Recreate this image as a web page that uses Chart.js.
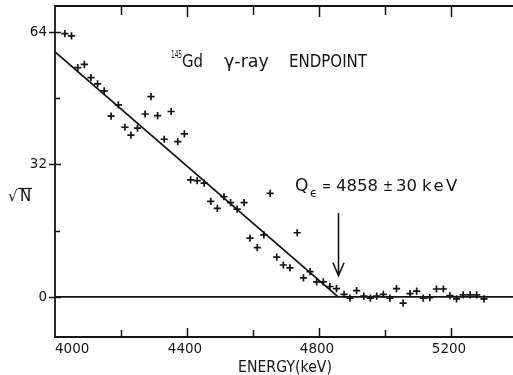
<!DOCTYPE html>
<html>
<head>
<meta charset="utf-8">
<script src="https://cdn.jsdelivr.net/npm/chart.js@4/dist/chart.umd.min.js"></script>
<style>
  html, body { margin: 0; padding: 0; background: #fff; overflow: hidden; }
  canvas { display: block; }
</style>
</head>
<body>
<canvas id="chart" width="513" height="375"></canvas>
<script>
// Measured spectrum: energy (keV) and square root of counts
const energies = [
  4030, 4050, 4069, 4089, 4109, 4129, 4149, 4170, 4192, 4212,
  4230, 4250, 4273, 4291, 4311, 4331, 4352, 4372, 4392, 4411,
  4431, 4452, 4472, 4492, 4512, 4532, 4552, 4573, 4591, 4613,
  4633, 4652, 4672, 4692, 4712, 4734, 4753, 4773, 4793, 4813,
  4833, 4853, 4876, 4894, 4914, 4936, 4956, 4975, 4995, 5015,
  5035, 5055, 5076, 5096, 5116, 5136, 5156, 5177, 5197, 5217,
  5237, 5258, 5278, 5300
];
const sqrtCounts = [
  63.6, 63.1, 55.4, 56.2, 53.0, 51.5, 49.8, 43.7, 46.4, 41.0,
  39.1, 40.8, 44.2, 48.4, 43.8, 38.1, 44.8, 37.5, 39.4, 28.3,
  28.1, 27.5, 23.1, 21.4, 24.2, 22.8, 21.2, 22.8, 14.2, 11.9,
  15.0, 25.0, 9.6, 7.7, 7.0, 15.5, 4.6, 6.1, 3.6, 3.6,
  2.5, 2.0, 0.6, -0.3, 1.5, 0.2, -0.3, 0.2, 0.6, -0.3,
  2.0, -1.5, 0.8, 1.4, -0.3, -0.2, 1.9, 1.9, 0.3, -0.5,
  0.5, 0.5, 0.5, -0.5
];

// Straight-line fit to the endpoint region
const fitEnergies = [4000, 4858];
const fitValues = [59.2, 0];

// Background level
const baseEnergies = [4000, 5388];
const baseValues = [0, 0];

// Endpoint result
const endpointEnergy = 4858;
const endpointError = 30;
const arrowFrom = 20.3;
const arrowTo = 5.1;

// Axes
const xMin = 4000, xMax = 5388;
const yMin = -9.7, yMax = 70.3;
const xTickValues = [4000, 4200, 4400, 4600, 4800, 5000, 5200];
const xTickLabels = [4000, 4400, 4800, 5200];
const yTickValues = [0, 16, 32, 48, 64];
const yTickLabels = [0, 32, 64];

const INK = '#141414';
const FONT = '"DejaVu Sans", sans-serif';

const toPoints = (xs, ys) => xs.map((x, i) => ({ x: x, y: ys[i] }));

const decorations = {
  id: 'decorations',
  afterDatasetsDraw(chart) {
    const ctx = chart.ctx;
    const a = chart.chartArea;
    const sx = chart.scales.x, sy = chart.scales.y;
    ctx.save();
    ctx.strokeStyle = INK;
    ctx.fillStyle = INK;

    // frame: top, left, bottom (open on the right)
    ctx.lineWidth = 1.8;
    ctx.lineCap = 'butt';
    ctx.beginPath();
    ctx.moveTo(a.right, a.top); ctx.lineTo(a.left, a.top);
    ctx.lineTo(a.left, a.bottom); ctx.lineTo(a.right, a.bottom);
    ctx.stroke();

    // x ticks (inward, bottom and top)
    ctx.lineWidth = 1.5;
    xTickValues.forEach(v => {
      if (v === xMin) return;
      const px = Math.round(sx.getPixelForValue(v)) + 0.5;
      const major = xTickLabels.includes(v);
      const len = major ? 9 : 7;
      ctx.beginPath();
      ctx.moveTo(px, a.bottom); ctx.lineTo(px, a.bottom - len);
      ctx.moveTo(px, a.top); ctx.lineTo(px, a.top + len + 2);
      ctx.stroke();
    });
    // y ticks
    yTickValues.forEach(v => {
      const py = Math.round(sy.getPixelForValue(v)) + 0.5;
      const major = yTickLabels.includes(v);
      ctx.beginPath();
      ctx.moveTo(a.left - (major ? 6 : 0), py);
      ctx.lineTo(a.left + (major ? 6 : 5), py);
      ctx.stroke();
    });

    // tick labels
    ctx.font = '13.5px ' + FONT;
    ctx.textBaseline = 'alphabetic';
    xTickLabels.forEach(v => {
      const px = sx.getPixelForValue(v);
      ctx.textAlign = v === xMin ? 'left' : 'center';
      ctx.fillText(String(v), v === xMin ? px : px - 2, a.bottom + 16);
    });
    ctx.textBaseline = 'middle';
    ctx.textAlign = 'right';
    yTickLabels.forEach(v => {
      ctx.fillText(String(v), a.left - 8, sy.getPixelForValue(v) + 0.5);
    });

    // axis titles
    ctx.textBaseline = 'alphabetic';
    ctx.textAlign = 'center';
    ctx.font = '15px ' + FONT;
    ctx.fillText('ENERGY(keV)', 285, 372, 94);

    ctx.textAlign = 'left';
    ctx.font = '15px ' + FONT;
    ctx.fillText('\u221A', 8, 201);
    ctx.fillText('N', 20, 201);
    ctx.lineWidth = 1.2;
    ctx.beginPath();
    ctx.moveTo(18, 188.5); ctx.lineTo(32, 188.5);
    ctx.stroke();

    // title
    ctx.font = '11px ' + FONT;
    ctx.fillText('145', 171, 58, 11);
    ctx.font = '17.5px ' + FONT;
    ctx.fillText('Gd', 182, 67, 21);
    ctx.fillText('\u03B3-ray', 224, 67, 52);
    ctx.fillText('ENDPOINT', 289, 67, 78);

    // endpoint label
    ctx.font = '17px ' + FONT;
    ctx.fillText('Q', 295, 191);
    ctx.font = '12px ' + FONT;
    ctx.fillText('\u03F5', 310, 197);
    ctx.font = '16.5px ' + FONT;
    ctx.fillText('=', 322, 191, 9);
    ctx.fillText(String(endpointEnergy), 336, 191, 42);
    ctx.fillText('\u00B1', 383, 191, 10);
    ctx.fillText(String(endpointError), 396, 191, 21);
    ctx.letterSpacing = '2.5px';
    ctx.fillText('keV', 422, 191);
    ctx.letterSpacing = '0px';

    // arrow to endpoint
    const ax = Math.round(sx.getPixelForValue(endpointEnergy)) + 0.5;
    const y0 = sy.getPixelForValue(arrowFrom);
    const y1 = sy.getPixelForValue(arrowTo);
    ctx.lineWidth = 1.6;
    ctx.beginPath();
    ctx.moveTo(ax, y0); ctx.lineTo(ax, y1);
    ctx.moveTo(ax - 5.5, y1 - 13); ctx.lineTo(ax, y1); ctx.lineTo(ax + 5.5, y1 - 13);
    ctx.stroke();

    ctx.restore();
  }
};

new Chart(document.getElementById('chart'), {
  type: 'scatter',
  data: {
    datasets: [
      {
        type: 'line',
        data: toPoints(baseEnergies, baseValues),
        borderColor: INK, borderWidth: 1.6,
        pointRadius: 0, fill: false, tension: 0
      },
      {
        type: 'line',
        data: toPoints(fitEnergies, fitValues),
        borderColor: INK, borderWidth: 1.8,
        pointRadius: 0, fill: false, tension: 0
      },
      {
        type: 'scatter',
        data: toPoints(energies, sqrtCounts),
        pointStyle: 'cross', pointRadius: 3.6,
        borderColor: INK, backgroundColor: INK, borderWidth: 1.7
      }
    ]
  },
  options: {
    responsive: false,
    animation: false,
    devicePixelRatio: 1,
    layout: { autoPadding: false, padding: { left: 55, top: 6, right: 0, bottom: 38 } },
    plugins: { legend: { display: false }, tooltip: { enabled: false } },
    scales: {
      x: { type: 'linear', display: false, min: xMin, max: xMax },
      y: { type: 'linear', display: false, min: yMin, max: yMax }
    }
  },
  plugins: [decorations]
});
</script>
</body>
</html>
